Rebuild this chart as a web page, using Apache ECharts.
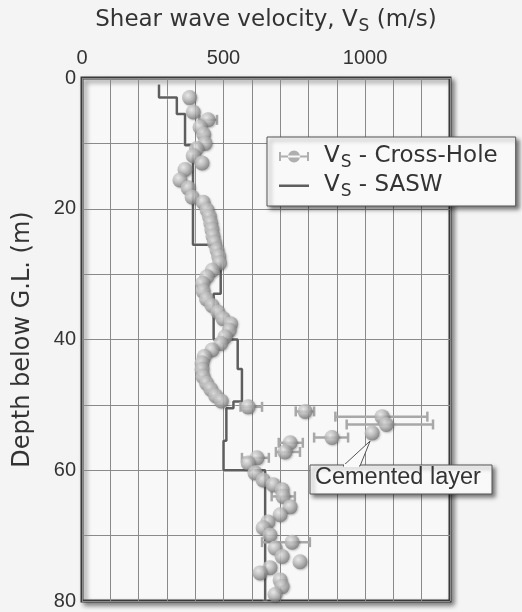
<!DOCTYPE html>
<html><head><meta charset="utf-8">
<script src="https://cdn.jsdelivr.net/npm/echarts@6/dist/echarts.min.js"></script>
<style>html,body{margin:0;padding:0;background:#f4f4f4;}#c{width:522px;height:612px;}</style>
</head><body><div id="c"></div>
<script>
// Cross-hole Vs measurements (depth m, velocity m/s)
const chDepth = [3.0,5.2,6.4,7.5,8.6,10.0,10.8,11.9,13.0,14.0,15.6,16.8,18.2,
  19.0,20.2,21.2,22.2,23.2,24.2,25.2,26.3,27.3,28.3,29.4,30.4,31.4,32.6,33.8,34.8,35.8,36.8,37.6,38.6,39.6,40.6,41.6,42.6,43.6,44.6,45.7,46.7,47.6,48.6,49.4,
  50.3,51.0,51.8,53.0,54.3,55.0,55.8,57.2,58.1,58.9,60.4,61.5,62.2,63.0,64.0,65.6,66.8,67.9,68.8,69.9,71.0,71.9,73.2,74.0,74.9,75.7,76.8,77.8,79.0];
const chVel = [380,393,445,417,430,435,405,393,424,364,346,375,389,
  428,442,450,455,459,463,468,477,483,486,460,441,426,428,440,459,480,498,525,520,505,490,459,432,424,424,428,440,455,472,492,
  587,788,1060,1075,1025,883,735,717,618,587,611,640,675,707,710,735,700,657,640,664,742,682,707,770,664,629,700,707,682];
// Error bars on cross-hole values (depth, low, high)
const ebDepth = [6.4,50.3,51.0,51.8,53.0,55.0,55.8,57.2,58.1,64.0,71.0];
const ebLow   = [415,560,755,895,935,820,695,685,565,670,636];
const ebHigh  = [477,636,820,1220,1240,940,780,770,660,752,805];
// SASW layered profile
const saTop = [1.0,3.0,5.5,10.3,25.5,33.0,40.0,44.5,49.5,50.5,55.5,60.0];
const saBot = [3.0,5.5,10.3,25.5,33.0,40.0,44.5,49.5,50.5,55.5,60.0,80.0];
const saVel = [272,335,364,392,490,465,550,565,535,510,500,647];
// axis tick labels
const xTickLabels = [0,500,1000];
const yTickLabels = [0,20,40,60,80];

const chart = echarts.init(document.getElementById('c'));
const sasw = [];
for (let i=0;i<saVel.length;i++){ sasw.push([saVel[i],saTop[i]]); sasw.push([saVel[i],saBot[i]]); }
const ch = chDepth.map((d,i)=>[chVel[i],d]);
const eb = ebDepth.map((d,i)=>[ebLow[i],ebHigh[i],d]);
const font = '"Liberation Sans", Arial, sans-serif';
const wfont = '"DejaVu Sans", sans-serif';
const sphere = {type:'radial',x:0.38,y:0.35,r:0.7,colorStops:[{offset:0,color:'#f2f2f2'},{offset:0.45,color:'#c0c0c0'},{offset:1,color:'#747474'}]};
const mkRich = (sz,pl)=>({v:{fontSize:sz,color:'#333',fontFamily:wfont},
  f:{fontSize:sz,color:'#333',fontFamily:wfont,padding:[0,0,0,pl||0]},
  s:{fontSize:Math.round(sz*0.72),color:'#333',fontFamily:wfont,padding:[Math.round(sz*0.5),0,0,1]}});

chart.setOption({
  backgroundColor:'#f4f4f4',
  animation:false,
  textStyle:{fontFamily:font},
  grid:{left:82,top:78,right:72,bottom:11,show:true,backgroundColor:'#f8f8f8',borderColor:'#3a3a3a',borderWidth:3,
        shadowColor:'rgba(0,0,0,0.45)',shadowBlur:5,shadowOffsetX:3,shadowOffsetY:3},
  xAxis:{type:'value',position:'top',min:0,max:1300,interval:100,
    name:'{v|Shear wave velocity, V}{s|S}{v| (m/s)}',nameLocation:'middle',nameGap:43,
    nameTextStyle:{fontSize:23,color:'#333',fontFamily:wfont,rich:mkRich(23)},
    axisLine:{show:false},axisTick:{show:false},
    axisLabel:{fontSize:20,color:'#333',margin:10,formatter:v=>xTickLabels.includes(v)?String(v):''},
    splitLine:{show:true,lineStyle:{color:'#8a8a8a',width:1}}},
  yAxis:{type:'value',inverse:true,min:0,max:80,interval:10,
    name:'Depth below G.L. (m)',nameLocation:'middle',nameGap:47,
    nameTextStyle:{fontSize:24,color:'#333',fontFamily:wfont},
    axisLine:{show:false},axisTick:{show:false},
    axisLabel:{fontSize:20,color:'#333',margin:6,formatter:v=>yTickLabels.includes(v)?String(v):''},
    splitLine:{show:true,lineStyle:{color:'#8a8a8a',width:1}}},
  legend:{orient:'vertical',left:267,top:137,padding:[8,18,6,12],itemGap:3,itemWidth:30,itemHeight:12,
    backgroundColor:'#f9f9f9',borderColor:'#555',borderWidth:1,shadowColor:'rgba(0,0,0,0.5)',shadowBlur:4,shadowOffsetX:3,shadowOffsetY:3,
    textStyle:{fontSize:23,color:'#333',fontFamily:wfont,rich:mkRich(23,10)},
    formatter:n=>n==='ch'?'{f|V}{s|S}{v| - Cross-Hole}':'{f|V}{s|S}{v| - SASW}',
    data:[{name:'ch',icon:'path://M0,5h30v2h-30z M0,1.5h2v9h-2z M28,1.5h2v9h-2z M9,6a6,6 0 1,0 12,0a6,6 0 1,0 -12,0z',itemStyle:{color:'#9c9c9c'}},
          {name:'sa',icon:'path://M0,5h30v2.5h-30z M0,0h0.01v0.01h-0.01z M0,12h0.01v0.01h-0.01z',itemStyle:{color:'#5e5e5e'}}]},
  series:[
    {name:'sa',type:'line',data:sasw,symbol:'none',z:2,
     lineStyle:{color:'#5e5e5e',width:2.5,shadowColor:'rgba(255,255,255,0.9)',shadowBlur:2},itemStyle:{color:'#5e5e5e'}},
    {name:'eb',type:'custom',data:eb,z:3,
     renderItem:(params,api)=>{
       const p1=api.coord([api.value(0),api.value(2)]), p2=api.coord([api.value(1),api.value(2)]);
       const st={stroke:'#a8a8a8',lineWidth:2.5};
       return {type:'group',children:[
         {type:'line',shape:{x1:p1[0],y1:p1[1],x2:p2[0],y2:p2[1]},style:st},
         {type:'line',shape:{x1:p1[0],y1:p1[1]-5,x2:p1[0],y2:p1[1]+5},style:st},
         {type:'line',shape:{x1:p2[0],y1:p2[1]-5,x2:p2[0],y2:p2[1]+5},style:st}]};
     }},
    {name:'ch',type:'scatter',data:ch,symbol:'circle',symbolSize:15,z:4,
     itemStyle:{color:sphere,shadowColor:'rgba(0,0,0,0.3)',shadowBlur:2,shadowOffsetX:1,shadowOffsetY:1}}
  ]
});

// Annotation "Cemented layer" with wedge pointing at the cemented-layer data point
const tip = chart.convertToPixel({gridIndex:0},[1025,54.3]);
chart.setOption({graphic:[
  {type:'polygon',z:10,shape:{points:[[343,466],[tip[0]-2,tip[1]+8],[360,466]]},style:{fill:'#f9f9f9',stroke:'#555',lineWidth:1}},
  {type:'rect',z:9,shape:{x:310,y:465,width:182,height:29},style:{fill:'#f9f9f9',stroke:'#555',lineWidth:1,shadowColor:'rgba(0,0,0,0.5)',shadowBlur:4,shadowOffsetX:3,shadowOffsetY:3}},
  {type:'rect',z:11,shape:{x:344,y:464,width:15,height:3},style:{fill:'#f9f9f9'}},
  {type:'text',z:12,left:315,top:466,style:{text:'Cemented layer',fontSize:23.5,fill:'#333',font:'23.5px '+wfont}}
]});
</script>
</body></html>
